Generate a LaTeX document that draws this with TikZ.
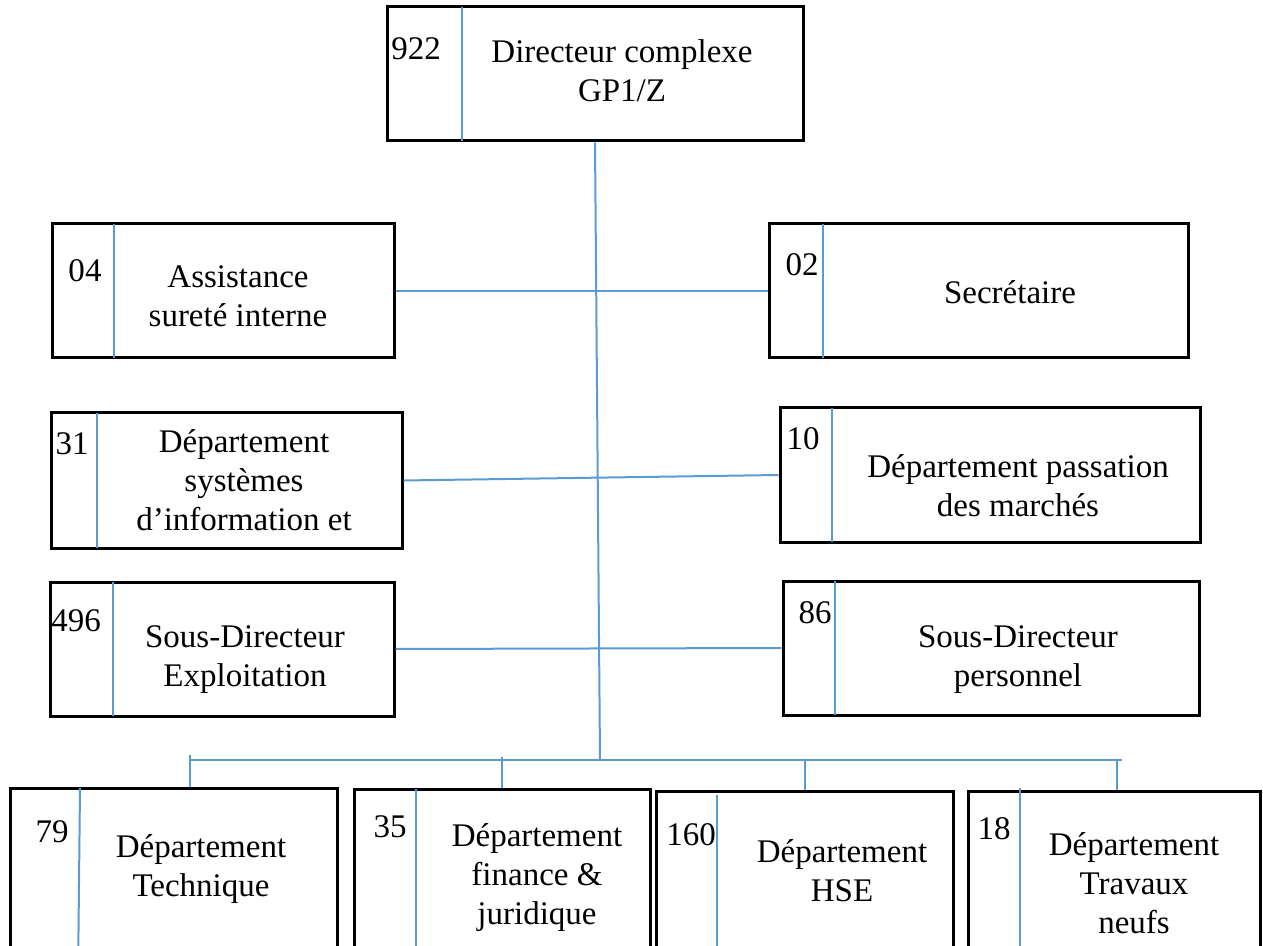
\documentclass[tikz,border=0pt]{standalone}
\usepackage{fontspec}
\setmainfont{Liberation Serif}
\usetikzlibrary{fit}
\definecolor{lblue}{HTML}{5B9BD5}
\begin{document}
\begin{tikzpicture}[x=0.5pt,y=-0.5pt,
  box/.style={draw=black,line width=1.5pt,inner sep=0pt,rectangle},
  div/.style={draw=lblue,line width=1pt},
  conn/.style={draw=lblue,line width=1pt},
  txt/.style={inner sep=0pt,anchor=north,align=center,font=\fontsize{16.5pt}{19.5pt}\selectfont},
]
\useasboundingbox (0,0) rectangle (1263,946);
\clip (0,0) rectangle (1263,946);

% boxes
\node[box,fit={(387,7) (803,141)}] (dir) {};
\node[box,fit={(52,224) (394,358)}] (assist) {};
\node[box,fit={(769,224) (1188,358)}] (secr) {};
\node[box,fit={(51,413) (402,548)}] (sys) {};
\node[box,fit={(780,408) (1200,542)}] (pass) {};
\node[box,fit={(50,582) (394,716)}] (exp) {};
\node[box,fit={(783,581) (1199,715)}] (pers) {};
\node[box,fit={(10,788) (337,980)}] (tech) {};
\node[box,fit={(354,789) (650,980)}] (fin) {};
\node[box,fit={(656,791) (953,980)}] (hse) {};
\node[box,fit={(968,791) (1260,980)}] (trav) {};

% dividers
\draw[div] (462,7) -- (462,141);
\draw[div] (114,224) -- (114,358);
\draw[div] (823,224) -- (823,358);
\draw[div] (97,413) -- (97,548);
\draw[div] (832,408) -- (832,542);
\draw[div] (113,582) -- (113,716);
\draw[div] (835,581) -- (835,715);
\draw[div] (80,788) -- (78,980);
\draw[div] (416,789) -- (416,980);
\draw[div] (717,795) -- (717,980);
\draw[div] (1020,788) -- (1020,980);

% numbers
\node[txt] (n922) at (416,37) {922};
\node[txt] (n04) at (85,259) {04};
\node[txt] (n02) at (802,253) {02};
\node[txt] (n31) at (72,432) {31};
\node[txt] (n10) at (803,427) {10};
\node[txt] (n496) at (76,609) {496};
\node[txt] (n86) at (815,601) {86};
\node[txt] (n79) at (52,820) {79};
\node[txt] (n35) at (390,815) {35};
\node[txt] (n160) at (691,823) {160};
\node[txt] (n18) at (994,817) {18};

% titles
\node[txt] (tdir) at (622,39) {Directeur complexe\\GP1/Z};
\node[txt] (tassist) at (238,265) {Assistance\\sureté interne};
\node[txt] (tsecr) at (1010,280) {Secrétaire};
\node[txt] (tsys) at (244,429) {Département\\systèmes\\d’information et};
\node[txt] (tpass) at (1018,454) {Département passation\\des marchés};
\node[txt] (texp) at (245,625) {Sous-Directeur\\Exploitation};
\node[txt] (tpers) at (1018,625) {Sous-Directeur\\personnel};
\node[txt] (ttech) at (201,834) {Département\\Technique};
\node[txt] (tfin) at (537,823) {Département\\finance \&\\juridique};
\node[txt] (thse) at (842,839) {Département\\HSE};
\node[txt] (ttrav) at (1134,832) {Département\\Travaux\\neufs};

% connectors
\coordinate (hub) at (600,760);
\draw[conn] (dir.south) -- (hub);
\draw[conn] (assist.east) -- (secr.west);
\draw[conn] (sys.east) -- (pass.west);
\draw[conn] (exp.east) -- (pers.west);
\coordinate (busL) at (190,760);
\coordinate (busR) at (1122,760);
\draw[conn] (busL) -- (busR);
\coordinate (k1) at (190,755);
\coordinate (k2) at (502,757);
\coordinate (k3) at (805,760);
\coordinate (k4) at (1117,760);
\draw[conn] (k1) -- (k1 |- tech.north);
\draw[conn] (k2) -- (k2 |- fin.north);
\draw[conn] (k3) -- (k3 |- hse.north);
\draw[conn] (k4) -- (k4 |- trav.north);
\end{tikzpicture}
\end{document}
